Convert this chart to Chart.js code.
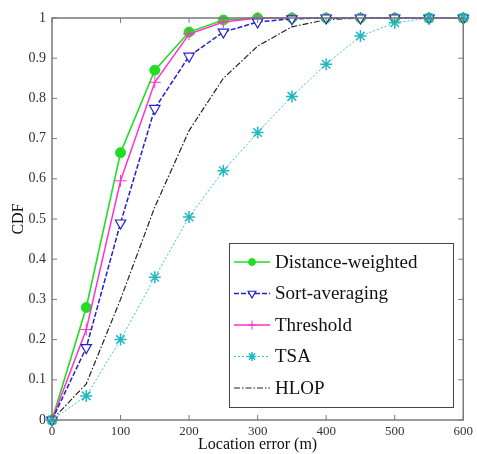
<!DOCTYPE html>
<html>
<head>
<meta charset="utf-8">
<script src="https://cdn.jsdelivr.net/npm/chart.js@4.4.0/dist/chart.umd.min.js"></script>
<style>
  html, body { margin: 0; padding: 0; background: #fff; }
  #wrap { width: 477px; height: 454px; }
</style>
</head>
<body>
<div id="wrap"><canvas id="mycanvas" width="477" height="454"></canvas></div>
<script>
// location error (m)
var errors = [0, 50, 100, 150, 200, 250, 300, 350, 400, 450, 500, 550, 600];

var distanceWeighted = [0, 0.28, 0.665, 0.87, 0.965, 0.995, 1, 1, 1, 1, 1, 1, 1];
var sortAveraging    = [0, 0.18, 0.49, 0.775, 0.905, 0.965, 0.99, 0.998, 1, 1, 1, 1, 1];
var threshold        = [0, 0.225, 0.595, 0.84, 0.96, 0.99, 1, 1, 1, 1, 1, 1, 1];
var tsa              = [0, 0.06, 0.2, 0.355, 0.505, 0.62, 0.715, 0.805, 0.885, 0.955, 0.988, 1, 1];
var hlop             = [0, 0.09, 0.3, 0.53, 0.72, 0.85, 0.93, 0.978, 0.996, 1, 1, 1, 1];

var xTicks = [0, 100, 200, 300, 400, 500, 600];
var yTicks = [0, 0.1, 0.2, 0.3, 0.4, 0.5, 0.6, 0.7, 0.8, 0.9, 1];

function pts(vals) {
	var out = [];
	for (var i in vals) {
		out.push({x: errors[i], y: vals[i]});
	}
	return out;
}

var serif = '"Liberation Serif", "DejaVu Serif", serif';

// MATLAB style box, inward ticks and legend inside the axes
var boxPlugin = {
	id: 'boxPlugin',
	afterDraw: function(chart) {
		var ctx = chart.ctx;
		var a = chart.chartArea;
		var xs = chart.scales.x, ys = chart.scales.y;
		ctx.save();
		ctx.strokeStyle = '#7a7a7a';
		ctx.lineWidth = 1.5;
		ctx.setLineDash([]);
		ctx.strokeRect(a.left, a.top, a.right - a.left, a.bottom - a.top);
		ctx.lineWidth = 1;
		for (var i in xTicks) {
			var px = xs.getPixelForValue(xTicks[i]);
			ctx.beginPath();
			ctx.moveTo(px, a.bottom); ctx.lineTo(px, a.bottom - 5);
			ctx.moveTo(px, a.top); ctx.lineTo(px, a.top + 5);
			ctx.stroke();
		}
		for (var j in yTicks) {
			var py = ys.getPixelForValue(yTicks[j]);
			ctx.beginPath();
			ctx.moveTo(a.left, py); ctx.lineTo(a.left + 5, py);
			ctx.moveTo(a.right, py); ctx.lineTo(a.right - 5, py);
			ctx.stroke();
		}

		// legend
		var lx = 229, ly = 243, lw = 224, lh = 164;
		ctx.fillStyle = '#fff';
		ctx.fillRect(lx, ly, lw, lh);
		ctx.strokeStyle = '#444';
		ctx.lineWidth = 1;
		ctx.strokeRect(lx + 0.5, ly + 0.5, lw, lh);
		ctx.font = '19px ' + serif;
		ctx.textBaseline = 'middle';
		ctx.textAlign = 'left';
		var ds = chart.data.datasets;
		for (var k = 0; k < ds.length; k++) {
			var d = ds[k];
			var cy = ly + 19 + k * 31.5;
			ctx.strokeStyle = d.borderColor;
			ctx.lineWidth = d.borderWidth;
			ctx.setLineDash(d.borderDash || []);
			ctx.beginPath();
			ctx.moveTo(lx + 5, cy); ctx.lineTo(lx + 41, cy);
			ctx.stroke();
			ctx.setLineDash([]);
			if (d.pointStyle && d.pointRadius > 0) {
				ctx.fillStyle = d.pointBackgroundColor;
				ctx.strokeStyle = d.pointBorderColor;
				ctx.lineWidth = d.pointBorderWidth || 1;
				Chart.helpers.drawPoint(ctx, {
					pointStyle: d.pointStyle,
					rotation: d.pointRotation || 0,
					radius: d.pointRadius - 1.5,
					borderWidth: d.pointBorderWidth || 1
				}, lx + 23, cy);
			}
			ctx.fillStyle = '#111';
			ctx.fillText(d.label, lx + 46, cy + 1);
		}
		ctx.restore();
	}
};

var chartdata = {
	datasets: [
		{
			label: 'Distance-weighted',
			data: pts(distanceWeighted),
			order: 3,
			borderColor: '#22dd22',
			backgroundColor: '#22dd22',
			pointBackgroundColor: '#22dd22',
			pointBorderColor: '#22dd22',
			borderWidth: 1.6,
			pointStyle: 'circle',
			pointRadius: 5,
			pointBorderWidth: 1
		},
		{
			label: 'Sort-averaging',
			data: pts(sortAveraging),
			order: 1,
			borderColor: '#2222cc',
			backgroundColor: '#ffffff',
			pointBackgroundColor: '#ffffff',
			pointBorderColor: '#2222cc',
			borderWidth: 1.5,
			borderDash: [5, 2],
			pointStyle: 'triangle',
			pointRotation: 180,
			pointRadius: 6,
			pointBorderWidth: 1.2
		},
		{
			label: 'Threshold',
			data: pts(threshold),
			order: 2,
			borderColor: '#ff33cc',
			backgroundColor: '#ff33cc',
			pointBackgroundColor: '#ff33cc',
			pointBorderColor: '#ff33cc',
			borderWidth: 1.5,
			pointStyle: 'cross',
			pointRadius: 6,
			pointBorderWidth: 1
		},
		{
			label: 'TSA',
			data: pts(tsa),
			order: 0,
			borderColor: '#33c6cc',
			backgroundColor: '#33c6cc',
			pointBackgroundColor: '#33c6cc',
			pointBorderColor: '#22b8c0',
			borderWidth: 1,
			borderDash: [2, 2],
			pointStyle: 'star',
			pointRadius: 6,
			pointBorderWidth: 1.5
		},
		{
			label: 'HLOP',
			data: pts(hlop),
			order: 4,
			borderColor: '#222222',
			backgroundColor: '#222222',
			borderWidth: 1.2,
			borderDash: [6, 2, 1.5, 2],
			pointStyle: false,
			pointRadius: 0
		}
	]
};

var ctx = document.getElementById('mycanvas');

var cdfChart = new Chart(ctx, {
	type: 'line',
	data: chartdata,
	plugins: [boxPlugin],
	options: {
		responsive: false,
		animation: false,
		devicePixelRatio: 1,
		layout: { padding: { top: 18, right: 9, left: 0, bottom: 0 } },
		elements: { line: { tension: 0 } },
		datasets: { line: { clip: false } },
		plugins: {
			legend: { display: false },
			tooltip: { enabled: false }
		},
		scales: {
			x: {
				type: 'linear',
				min: 0,
				max: 600,
				afterFit: function(s) { s.height = 34; },
				afterBuildTicks: function(s) { s.ticks = xTicks.map(function(v) { return {value: v}; }); },
				grid: { display: false, drawTicks: false },
				border: { display: false },
				ticks: {
					padding: 4,
					color: '#333',
					font: { family: serif, size: 13 },
					maxRotation: 0
				},
				title: {
					display: true,
					text: 'Location error (m)',
					color: '#111',
					font: { family: serif, size: 16 },
					padding: { top: 0, bottom: 0 }
				}
			},
			y: {
				min: 0,
				max: 1,
				afterFit: function(s) { s.width = 52; },
				afterBuildTicks: function(s) { s.ticks = yTicks.map(function(v) { return {value: v}; }); },
				grid: { display: false, drawTicks: false },
				border: { display: false },
				ticks: {
					padding: 6,
					color: '#333',
					font: { family: serif, size: 14 },
					callback: function(v) { return String(Math.round(v * 10) / 10); }
				},
				title: {
					display: true,
					text: 'CDF',
					color: '#111',
					font: { family: serif, size: 16 },
					padding: { top: 9, bottom: 0 }
				}
			}
		}
	}
});
</script>
</body>
</html>
